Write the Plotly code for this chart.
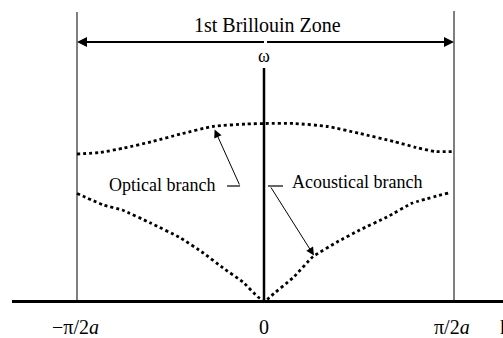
import plotly.graph_objects as go

# Dispersion relation of a diatomic chain across the 1st Brillouin zone.
# k is in units of pi/2a, omega in arbitrary units.
optical_k = [-1.0, -0.88, -0.75, -0.6, -0.45, -0.28, -0.1, 0.0, 0.15, 0.33, 0.5, 0.68, 0.8, 0.9, 1.0]
optical_w = [1.475, 1.49, 1.535, 1.60, 1.675, 1.75, 1.775, 1.78, 1.78, 1.75, 1.68, 1.60, 1.54, 1.50, 1.50]

acoustic_k = [-1.0, -0.86, -0.76, -0.61, -0.45, -0.33, -0.225, -0.12, -0.04, 0.0,
              0.02, 0.15, 0.25, 0.38, 0.5, 0.645, 0.78, 0.97]
acoustic_w = [1.08, 0.965, 0.915, 0.785, 0.635, 0.485, 0.335, 0.195, 0.045, 0.0,
              0.04, 0.245, 0.445, 0.595, 0.715, 0.845, 0.985, 1.085]

tick_k = [-1.0, 0.0, 1.0]
tick_text = ["\u2212\u03c0/2<i>a</i>", "0", "\u03c0/2<i>a</i>"]

SERIF = "Liberation Serif, Times New Roman, serif"
BLACK = "#000000"

fig = go.Figure()

dot_line = dict(color=BLACK, width=2.8, dash="3px,3px")
fig.add_trace(go.Scatter(x=optical_k, y=optical_w, mode="lines",
                         line=dict(shape="spline", smoothing=0.6, **dot_line),
                         hoverinfo="skip", showlegend=False))
fig.add_trace(go.Scatter(x=acoustic_k, y=acoustic_w, mode="lines",
                         line=dict(shape="spline", smoothing=0.4, **dot_line),
                         hoverinfo="skip", showlegend=False))

shapes = [
    # k axis
    dict(type="line", x0=-1.345, x1=1.3, y0=0, y1=0, line=dict(color=BLACK, width=3)),
    # omega axis
    dict(type="line", x0=-0.008, x1=-0.008, y0=0, y1=2.335, line=dict(color=BLACK, width=2.5)),
    # zone boundaries
    dict(type="line", x0=-1, x1=-1, y0=0, y1=2.895, line=dict(color=BLACK, width=1)),
    dict(type="line", x0=1, x1=1, y0=0, y1=2.905, line=dict(color=BLACK, width=1)),
    # short leader ticks next to the branch labels
    dict(type="line", x0=-0.204, x1=-0.135, y0=1.155, y1=1.155, line=dict(color=BLACK, width=1.2)),
    dict(type="line", x0=0.013, x1=0.093, y0=1.155, y1=1.155, line=dict(color=BLACK, width=1.2)),
]

annotations = [
    dict(x=0.01, y=2.765, text="1st Brillouin Zone", showarrow=False,
         font=dict(family=SERIF, size=20, color=BLACK), xanchor="center", yanchor="middle"),
    dict(x=-0.008, y=2.455, text="\u03c9", showarrow=False,
         font=dict(family=SERIF, size=18, color=BLACK), xanchor="center", yanchor="middle"),
    dict(x=-0.549, y=1.165, text="Optical branch", showarrow=False,
         font=dict(family=SERIF, size=18, color=BLACK), xanchor="center", yanchor="middle"),
    dict(x=0.483, y=1.195, text="Acoustical branch", showarrow=False,
         font=dict(family=SERIF, size=18, color=BLACK), xanchor="center", yanchor="middle"),
    # zone width arrows
    dict(x=-1, y=2.595, ax=0, ay=2.595, axref="x", ayref="y", text="", showarrow=True,
         arrowhead=2, arrowsize=1, arrowwidth=2, arrowcolor=BLACK),
    dict(x=1, y=2.595, ax=0, ay=2.595, axref="x", ayref="y", text="", showarrow=True,
         arrowhead=2, arrowsize=1, arrowwidth=2, arrowcolor=BLACK),
    # branch pointers
    dict(x=-0.27, y=1.72, ax=-0.135, ay=1.155, axref="x", ayref="y", text="", showarrow=True,
         arrowhead=2, arrowsize=1.6, arrowwidth=1, arrowcolor=BLACK),
    dict(x=0.257, y=0.46, ax=0.024, ay=1.155, axref="x", ayref="y", text="", showarrow=True,
         arrowhead=2, arrowsize=1.6, arrowwidth=1, arrowcolor=BLACK),
    # axis label, running off the right edge
    dict(x=1.234, y=-0.255, text="k", showarrow=False,
         font=dict(family=SERIF, size=20, color=BLACK), xanchor="left", yanchor="middle"),
]

for k, t in zip(tick_k, tick_text):
    annotations.append(dict(x=k - 0.01, y=-0.255, text=t, showarrow=False,
                            font=dict(family=SERIF, size=20, color=BLACK),
                            xanchor="center", yanchor="middle"))

fig.update_layout(
    width=503, height=338,
    margin=dict(l=0, r=0, t=0, b=0),
    paper_bgcolor="white", plot_bgcolor="white",
    xaxis=dict(range=[-1.4085, 1.2599], visible=False, fixedrange=True),
    yaxis=dict(range=[-0.365, 3.015], visible=False, fixedrange=True),
    shapes=shapes, annotations=annotations,
    showlegend=False,
)

fig.write_html("out.html", config=dict(displayModeBar=False))
